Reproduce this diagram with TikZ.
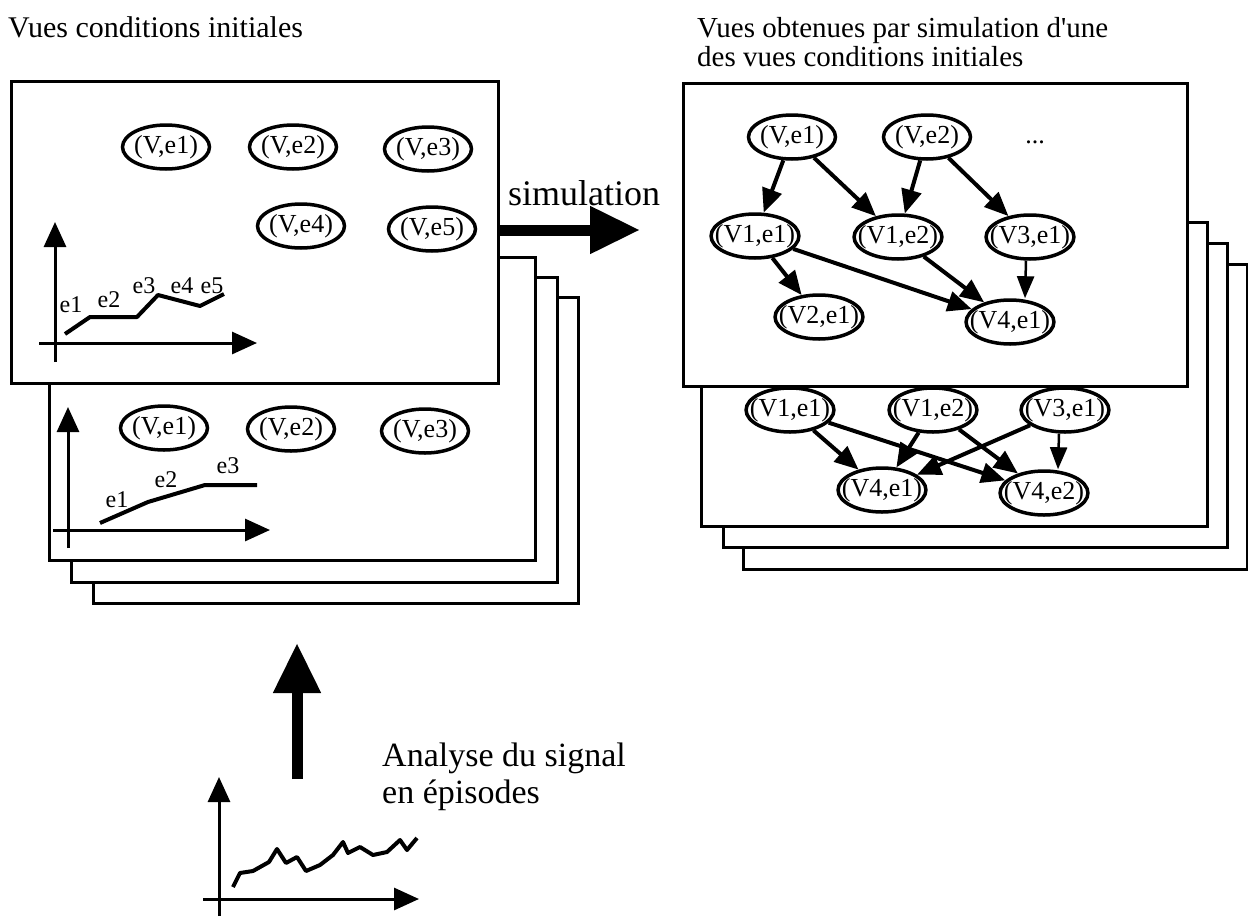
\documentclass[tikz,border=0pt]{standalone}
\usepackage{fontspec}
\setmainfont{Liberation Serif}
\usepackage{tikz}
\usetikzlibrary{positioning, shapes.geometric, arrows.meta}
\tikzset{
    base/.style={
        font=\fontsize{26}{30}\selectfont
    },
    episode/.style={
        base,
        ellipse,
        draw,
        line width=3.5pt,
        fill=white,
        inner xsep=-9pt,
        inner ysep=0pt,
        minimum width=87pt,
        minimum height=44pt
    },
    sheet/.style={
        draw,
        line width=3pt,
        fill=white
    },
    flow/.style={
        -{Triangle[length=24pt, width=20pt]},
        line width=4pt
    },
    thinflow/.style={
        -{Triangle[length=22pt, width=17pt]},
        line width=2.5pt
    },
    bigflow/.style={
        -{Triangle[length=50pt, width=45pt]},
        line width=11pt
    },
    axis/.style={
        -{Triangle[length=25pt, width=22pt]},
        line width=3pt
    },
    signal/.style={
        line width=4pt,
        line join=round
    },
    epi/.style={
        font=\fontsize{24}{28}\selectfont,
        inner sep=0pt
    },
    caption/.style={
        font=\fontsize{30}{36}\selectfont,
        inner sep=0pt
    },
    bigcaption/.style={
        font=\fontsize{34}{40}\selectfont,
        inner sep=0pt
    }
}

\begin{document}
\begin{tikzpicture}[x=1pt, y=-1pt]
  \useasboundingbox (0,0) rectangle (1248,916);

  % Titles
  \node[caption, anchor=base west] (title-init) at (8,37) {Vues conditions initiales};
  \node[caption, font=\fontsize{29}{34}\selectfont, anchor=base west] (title-sim) at (697,37) {Vues obtenues par simulation d\textquotesingle une};
  \node[caption, font=\fontsize{29}{34}\selectfont, anchor=base west] (title-sim2) at (697,66) {des vues conditions initiales};

  % Initial views: stack of sheets
  \draw[sheet] (93,297) rectangle (578,603);
  \draw[sheet] (71,277) rectangle (557,582);
  \draw[sheet] (49,257) rectangle (535,560);

  % second sheet
  \node[episode] (b-v-e1) at (164,428) {(V,e1)};
  \node[episode] (b-v-e2) at (291,429) {(V,e2)};
  \node[episode] (b-v-e3) at (425,431) {(V,e3)};
  \draw[axis] (68,548) -- (68,407);
  \draw[axis] (53,530) -- (270,530);
  \draw[signal] (100,523) -- (148,502) -- (205,485) -- (257,485);
  \node[epi] (b-e1) at (117,500) {e1};
  \node[epi] (b-e2) at (166,480) {e2};
  \node[epi] (b-e3) at (228,466) {e3};

  % front sheet
  \draw[sheet] (11,81) rectangle (498,383);
  \node[episode] (f-v-e1) at (166,147) {(V,e1)};
  \node[episode] (f-v-e2) at (293,147) {(V,e2)};
  \node[episode] (f-v-e3) at (428,149) {(V,e3)};
  \node[episode] (f-v-e4) at (301,226) {(V,e4)};
  \node[episode] (f-v-e5) at (432,229) {(V,e5)};
  \draw[axis] (55,362) -- (55,222);
  \draw[axis] (39,343) -- (257,343);
  \draw[signal] (65,334) -- (90,317) -- (137,317) -- (158,295) -- (200,306) -- (224,294);
  \node[epi] (f-e1) at (71,305) {e1};
  \node[epi] (f-e2) at (109,300) {e2};
  \node[epi] (f-e3) at (144,286) {e3};
  \node[epi] (f-e4) at (182,286) {e4};
  \node[epi] (f-e5) at (212,286) {e5};

  % Simulation
  \coordinate (sim-start) at (498,230);
  \coordinate (sim-end) at (640,230);
  \draw[bigflow] (sim-start) -- (sim-end);
  \node[caption, font=\fontsize{36}{42}\selectfont, anchor=base west] (sim-label) at (508,205) {simulation};

  % Simulated views: stack of sheets
  \draw[sheet] (743,264) rectangle (1247,569);
  \draw[sheet] (723,243) rectangle (1227,547);
  \draw[sheet] (701,222) rectangle (1207,526);

  % second sheet
  \node[episode] (s-v1-e1) at (790,410) {(V1,e1)};
  \node[episode] (s-v1-e2) at (933,410) {(V1,e2)};
  \node[episode] (s-v3-e1) at (1065,410) {(V3,e1)};
  \node[episode] (s-v4-e1) at (882,490) {(V4,e1)};
  \node[episode] (s-v4-e2) at (1044,493) {(V4,e2)};
  \draw[flow] (s-v1-e1) -- (s-v4-e1);
  \draw[flow] (s-v1-e1) -- (s-v4-e2);
  \draw[flow] (s-v1-e2) -- (s-v4-e1);
  \draw[flow] (s-v1-e2) -- (s-v4-e2);
  \draw[flow] (s-v3-e1) -- (s-v4-e1);
  \draw[thinflow] ([xshift=-6pt]s-v3-e1.south) -- ([xshift=14pt]s-v4-e2.north);

  % front sheet
  \draw[sheet] (683,83) rectangle (1187,386);
  \node[episode] (r-v-e1) at (792,137) {(V,e1)};
  \node[episode] (r-v-e2) at (927,137) {(V,e2)};
  \node[base] (r-more) at (1035,142) {...};
  \node[episode] (r-v1-e1) at (755,236) {(V1,e1)};
  \node[episode] (r-v1-e2) at (898,237) {(V1,e2)};
  \node[episode] (r-v3-e1) at (1030,237) {(V3,e1)};
  \node[episode] (r-v2-e1) at (819,317) {(V2,e1)};
  \node[episode] (r-v4-e1) at (1010,322) {(V4,e1)};
  \draw[flow] (r-v-e1) -- (r-v1-e1);
  \draw[flow] (r-v-e1) -- (r-v1-e2);
  \draw[flow] (r-v-e2) -- (r-v1-e2);
  \draw[flow] (r-v-e2) -- (r-v3-e1);
  \draw[flow] (r-v1-e1) -- (r-v2-e1);
  \draw[flow] (r-v1-e1) -- (r-v4-e1);
  \draw[flow] (r-v1-e2) -- (r-v4-e1);
  \draw[thinflow] ([xshift=-4pt]r-v3-e1.south) -- ([xshift=15pt]r-v4-e1.north);

  % Raw signal and segmentation
  \draw[axis] (219,916) -- (219,777);
  \draw[axis] (203,899) -- (419,899);
  \draw[signal] (233,887) -- (240,873) -- (253,871) -- (269,862) -- (277,849) -- (286,863)
    -- (297,857) -- (306,871) -- (320,865) -- (333,855) -- (343,842) -- (348,853)
    -- (360,847) -- (373,855) -- (387,852) -- (400,840) -- (407,850) -- (417,838);
  \coordinate (seg-start) at (297,779);
  \coordinate (seg-end) at (297,643);
  \draw[bigflow] (seg-start) -- (seg-end);
  \node[bigcaption, anchor=base west] (seg-label) at (382,766) {Analyse du signal};
  \node[bigcaption, anchor=base west] (seg-label2) at (382,803) {en épisodes};
\end{tikzpicture}
\end{document}
